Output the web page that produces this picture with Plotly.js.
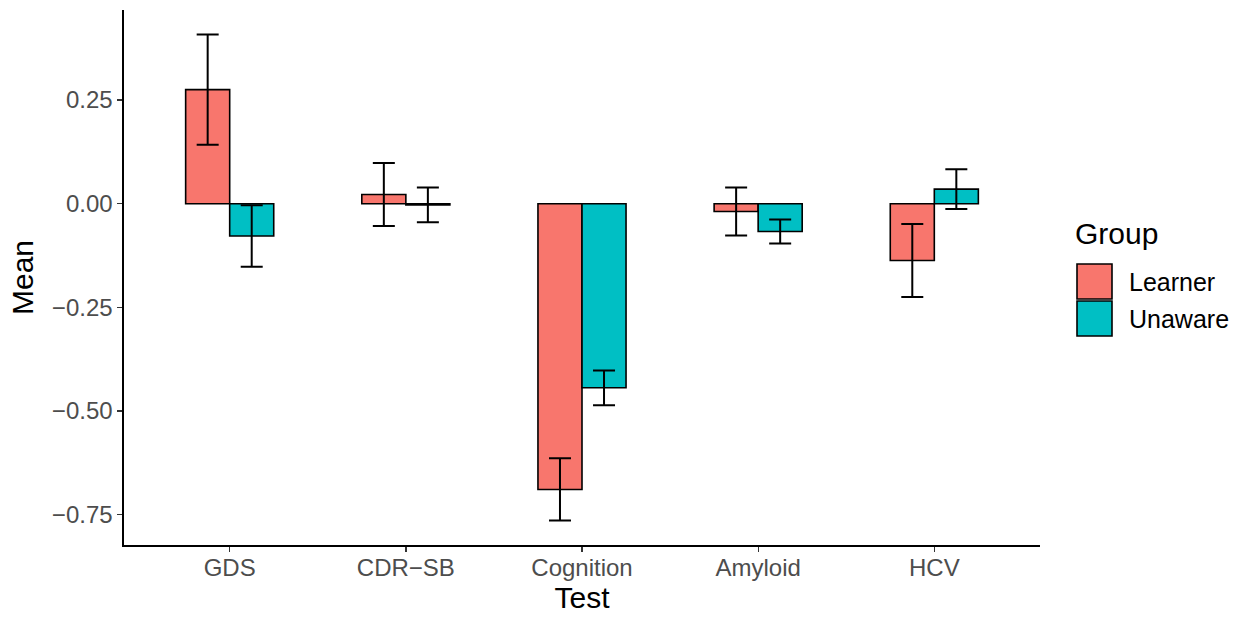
<!DOCTYPE html>
<html>
<head>
<meta charset="utf-8">
<script src="https://cdn.plot.ly/plotly-3.0.1.min.js"></script>
<style>html,body{margin:0;padding:0;background:#fff;}#chart{width:1250px;height:618px;}</style>
</head>
<body>
<div id="chart"></div>
<script>
var tests = ["GDS", "CDR\u2212SB", "Cognition", "Amyloid", "HCV"];
var groups = ["Learner", "Unaware"];
var groupColors = ["#F8766D", "#00BFC4"];
var learnerMean = [0.275, 0.022, -0.689, -0.019, -0.137];
var learnerSE = [0.133, 0.076, 0.075, 0.058, 0.088];
var unawareMean = [-0.078, -0.003, -0.444, -0.067, 0.035];
var unawareSE = [0.074, 0.042, 0.042, 0.029, 0.048];
var yTickVals = [0.25, 0, -0.25, -0.5, -0.75];
var yTickText = ["0.25", "0.00", "\u22120.25", "\u22120.50", "\u22120.75"];

var font = "Liberation Sans, Arial, Helvetica, sans-serif";

function barTrace(name, y, se, color) {
  return {
    type: "bar", name: name, x: tests, y: y,
    marker: {color: color, line: {color: "#000000", width: 1.6}},
    error_y: {type: "data", array: se, visible: true, color: "#000000", thickness: 2, width: 11},
    showlegend: false, hoverinfo: "x+y"
  };
}

var data = [
  barTrace(groups[0], learnerMean, learnerSE, groupColors[0]),
  barTrace(groups[1], unawareMean, unawareSE, groupColors[1])
];

// legend drawn in paper coordinates
var W = 1250, H = 618, ml = 124, mr = 210, mt = 10, mb = 73;
var pw = W - ml - mr, ph = H - mt - mb;
function px(x) { return (x - ml) / pw; }
function py(y) { return (H - mb - y) / ph; }
var shapes = [], annotations = [];
groups.forEach(function (g, i) {
  var top = 264 + i * 37;
  shapes.push({type: "rect", xref: "paper", yref: "paper",
    x0: px(1077), x1: px(1112), y0: py(top + 35), y1: py(top),
    fillcolor: groupColors[i], line: {color: "#000000", width: 1.6}});
  annotations.push({xref: "paper", yref: "paper", x: px(1127), y: py(top + 18),
    xanchor: "left", yanchor: "middle", showarrow: false, text: g,
    font: {family: font, size: 25, color: "#000000"}});
});
annotations.push({xref: "paper", yref: "paper", x: px(1073), y: py(233),
  xanchor: "left", yanchor: "middle", showarrow: false, text: "Group",
  font: {family: font, size: 30, color: "#000000"}});

var layout = {
  width: W, height: H,
  margin: {l: ml, r: mr, t: mt, b: mb, pad: 0},
  paper_bgcolor: "#ffffff", plot_bgcolor: "#ffffff",
  barmode: "group", bargap: 0.5, bargroupgap: 0,
  showlegend: false,
  font: {family: font},
  xaxis: {
    type: "category", range: [-0.6, 4.6],
    showline: true, linecolor: "#000000", linewidth: 1.6,
    ticks: "outside", ticklen: 5, tickwidth: 1.3, tickcolor: "#333333",
    ticklabelstandoff: -4,
    showgrid: false, zeroline: false,
    tickfont: {family: font, size: 24, color: "#4D4D4D"},
    title: {text: "Test", font: {family: font, size: 30, color: "#000000"}, standoff: 5}
  },
  yaxis: {
    range: [-0.823, 0.467],
    tickvals: yTickVals, ticktext: yTickText,
    showline: true, linecolor: "#000000", linewidth: 1.6,
    ticks: "outside", ticklen: 5, tickwidth: 1.3, tickcolor: "#333333",
    showgrid: false, zeroline: false,
    tickfont: {family: font, size: 24, color: "#4D4D4D"},
    title: {text: "Mean", font: {family: font, size: 30, color: "#000000"}, standoff: 9}
  },
  shapes: shapes,
  annotations: annotations
};

Plotly.newPlot("chart", data, layout, {displayModeBar: false, staticPlot: true});
</script>
</body>
</html>
